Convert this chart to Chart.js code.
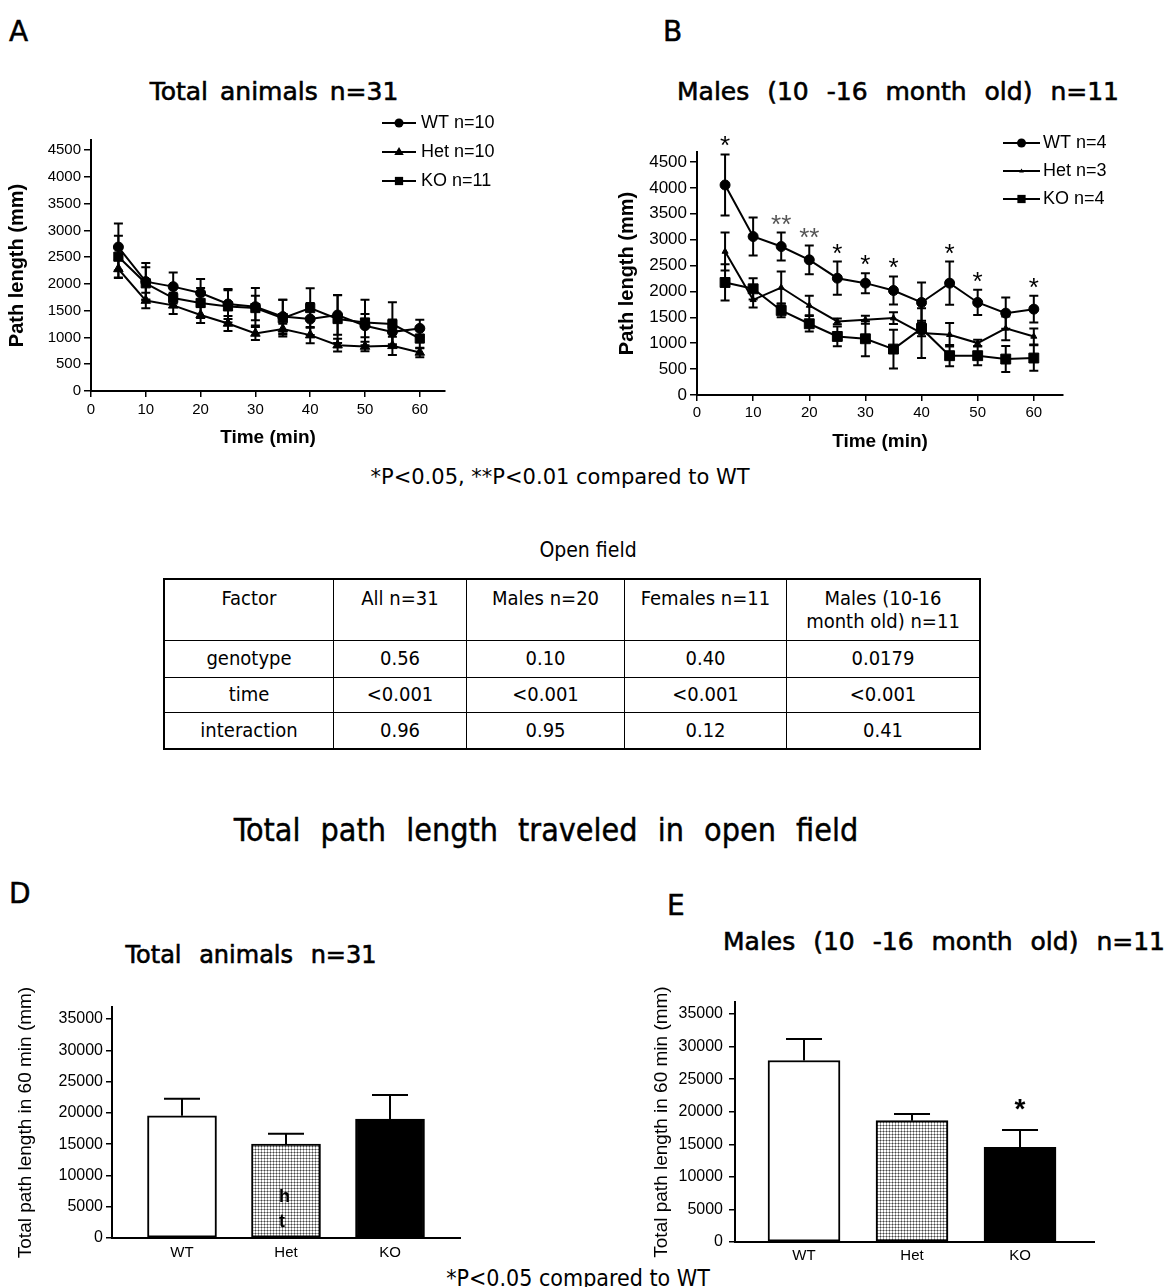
<!DOCTYPE html>
<html>
<head>
<meta charset="utf-8">
<script src="https://cdn.jsdelivr.net/npm/chart.js@4.4.0/dist/chart.umd.min.js"></script>
<style>
  body { margin: 0; background: #fff; width: 1167px; height: 1287px; position: relative; overflow: hidden; color: #000; }
  .t { position: absolute; white-space: nowrap; }
  .letter { font-family: "DejaVu Sans", sans-serif; font-size: 28px; line-height: 28px; -webkit-text-stroke: 0.5px #000; }
  .ptitle { font-family: "DejaVu Sans", sans-serif; font-size: 25px; line-height: 25px; text-align: center; width: 600px; -webkit-text-stroke: 0.6px #000; }
  .cond { font-family: "DejaVu Sans Condensed", "DejaVu Sans", sans-serif; text-align: center; width: 800px; }
  canvas { position: absolute; }
  table { position: absolute; left: 163px; top: 578px; border-collapse: collapse; border: 2px solid #000;
          font-family: "DejaVu Sans Condensed", "DejaVu Sans", sans-serif; font-size: 20px; }
  td { border: 1px solid #000; text-align: center; padding: 0; line-height: 23px; }
  tr.hd td { vertical-align: top; padding-top: 7px; }
</style>
</head>
<body>

<div class="t letter" style="left:9px;top:18px">A</div>
<div class="t letter" style="left:663px;top:18px">B</div>
<div class="t letter" style="left:9px;top:880px">D</div>
<div class="t letter" style="left:667px;top:892px">E</div>

<div class="t ptitle" style="left:-26px;top:79px;word-spacing:4px">Total animals n=31</div>
<div class="t ptitle" style="left:598px;top:79px;word-spacing:10px">Males (10 -16 month old) n=11</div>
<div class="t ptitle" style="left:-49px;top:943px;font-size:24px;line-height:24px;word-spacing:10px">Total animals n=31</div>
<div class="t ptitle" style="left:644px;top:929px;word-spacing:10px">Males (10 -16 month old) n=11</div>

<div class="t cond" style="left:160px;top:465px;font-size:21px;font-family:'DejaVu Sans',sans-serif">*P&lt;0.05, **P&lt;0.01 compared to WT</div>
<div class="t cond" style="left:188px;top:538px;font-size:21px">Open field</div>
<div class="t cond" style="left:146px;top:811px;font-size:32px;word-spacing:11px;-webkit-text-stroke:0.4px #000">Total path length traveled in open field</div>
<div class="t cond" style="left:178px;top:1265px;font-size:23px">*P&lt;0.05 compared to WT</div>

<canvas id="chartA" width="520" height="355" style="left:0;top:105px"></canvas>
<canvas id="chartB" width="567" height="355" style="left:600px;top:105px"></canvas>
<canvas id="chartD" width="470" height="310" style="left:0;top:960px"></canvas>
<canvas id="chartE" width="527" height="325" style="left:640px;top:945px"></canvas>

<table id="statsTable"></table>

<div class="t" style="left:279px;top:1186px;font:bold 18px 'Liberation Sans'">h</div>
<div class="t" style="left:279px;top:1211px;font:bold 18px 'Liberation Sans'">t</div>

<script>
// time course, minutes
const timePoints = [5, 10, 15, 20, 25, 30, 35, 40, 45, 50, 55, 60];
const xTicksLine = [0, 10, 20, 30, 40, 50, 60];
const yTicksLine = [0, 500, 1000, 1500, 2000, 2500, 3000, 3500, 4000, 4500];

// A: total animals n=31
const allWT = [2690, 2044, 1950, 1831, 1625, 1575, 1390, 1345, 1420, 1220, 1105, 1170];
const allWTsem = [440, 350, 262, 263, 281, 350, 316, 300, 370, 217, 230, 160];
const allHet = [2280, 1690, 1600, 1420, 1262, 1075, 1156, 1044, 856, 831, 844, 720];
const allHetSem = [170, 146, 160, 150, 140, 120, 100, 150, 120, 90, 170, 90];
const allKO = [2510, 2012, 1737, 1644, 1581, 1550, 1362, 1550, 1345, 1280, 1250, 980];
const allKOsem = [390, 300, 100, 280, 300, 230, 344, 370, 450, 426, 406, 180];

// B: males 10-16 month old n=11
const malesWT = [4056, 3060, 2867, 2610, 2256, 2160, 2018, 1787, 2160, 1787, 1581, 1658];
const malesWTsem = [590, 366, 270, 276, 322, 193, 271, 386, 418, 244, 302, 257];
const malesHet = [2771, 1838, 2076, 1729, 1421, 1453, 1485, 1196, 1164, 1003, 1286, 1131];
const malesHetSem = [366, 150, 309, 187, 57, 77, 115, 480, 225, 64, 231, 155];
const malesKO = [2173, 2051, 1633, 1376, 1131, 1086, 887, 1286, 759, 759, 694, 714];
const malesKOsem = [350, 205, 130, 150, 190, 340, 373, 150, 205, 185, 250, 245];
const malesStars = ['*', '', '**', '**', '*', '*', '*', '', '*', '*', '', '*'];

// D / E: total path length in 60 min
const genotypes = ['WT', 'Het', 'KO'];
const yTicksBar = [0, 5000, 10000, 15000, 20000, 25000, 30000, 35000];
const totalAll = [19520, 15000, 18990];
const totalAllSem = [2720, 1650, 3880];
const totalMales = [27860, 18630, 14520];
const totalMalesSem = [3290, 1020, 2670];
const totalMalesStars = ['', '', '*'];

// ANOVA table
const tableHeader = ['Factor', 'All n=31', 'Males n=20', 'Females n=11', 'Males (10-16<br>month old) n=11'];
const tableRows = [
    ['genotype', '0.56', '0.10', '0.40', '0.0179'],
    ['time', '<0.001', '<0.001', '<0.001', '<0.001'],
    ['interaction', '0.96', '0.95', '0.12', '0.41']
];
const colWidths = [168, 132, 157, 161, 192];
const rowHeights = [61, 37, 35, 37];

Chart.defaults.font.family = "'Liberation Sans', Arial, sans-serif";
Chart.defaults.color = '#000';

// error bars (+ optional stars above them)
const errorBars = {
    id: 'errorBars',
    afterDatasetsDraw(chart, args, opts) {
        const ctx = chart.ctx;
        const yScale = chart.scales.y;
        chart.data.datasets.forEach((ds, di) => {
            if (!ds.errors) return;
            const meta = chart.getDatasetMeta(di);
            ctx.save();
            ctx.strokeStyle = '#000';
            ctx.lineWidth = opts.width;
            meta.data.forEach((el, i) => {
                const v = ds.data[i].y;
                const e = ds.errors[i];
                const top = yScale.getPixelForValue(v + e);
                const bot = opts.upOnly ? el.y : yScale.getPixelForValue(v - e);
                ctx.beginPath();
                ctx.moveTo(el.x, top);
                ctx.lineTo(el.x, bot);
                ctx.moveTo(el.x - opts.cap, top);
                ctx.lineTo(el.x + opts.cap, top);
                if (!opts.upOnly) {
                    ctx.moveTo(el.x - opts.cap, bot);
                    ctx.lineTo(el.x + opts.cap, bot);
                }
                ctx.stroke();
                if (ds.stars && ds.stars[i]) {
                    ctx.fillStyle = ds.stars[i] === '**' ? '#555' : '#000';
                    ctx.font = opts.starFont;
                    ctx.textAlign = 'center';
                    ctx.textBaseline = 'alphabetic';
                    ctx.fillText(ds.stars[i], el.x, top - opts.starGap);
                }
            });
            ctx.restore();
        });
    }
};

function drawMarker(ctx, style, r, x, y) {
    ctx.beginPath();
    if (style === 'circle') {
        ctx.arc(x, y, r, 0, Math.PI * 2);
    } else if (style === 'triangle') {
        ctx.moveTo(x, y - r);
        ctx.lineTo(x + r * 0.95, y + r * 0.6);
        ctx.lineTo(x - r * 0.95, y + r * 0.6);
        ctx.closePath();
    } else {
        ctx.rect(x - r * 0.75, y - r * 0.75, r * 1.5, r * 1.5);
    }
    ctx.fill();
}

// legend: line with marker, then label
const lineLegend = {
    id: 'lineLegend',
    afterDraw(chart, args, o) {
        if (!o.labels) return;
        const ctx = chart.ctx;
        chart.data.datasets.forEach((ds, i) => {
            const y = o.y + i * o.gap;
            ctx.save();
            ctx.strokeStyle = '#000';
            ctx.fillStyle = '#000';
            ctx.lineWidth = 2;
            ctx.beginPath();
            ctx.moveTo(o.x, y);
            ctx.lineTo(o.x + o.len, y);
            ctx.stroke();
            drawMarker(ctx, ds.pointStyle, o.radius[i], o.x + o.len / 2, y);
            ctx.font = o.font;
            ctx.textBaseline = 'middle';
            ctx.fillText(o.labels[i], o.x + o.len + o.textGap, y);
            ctx.restore();
        });
    }
};

function points(values) {
    return values.map((v, i) => ({ x: timePoints[i], y: v }));
}

function lineDataset(label, values, sem, style, radius) {
    return {
        label: label,
        data: points(values),
        errors: sem,
        borderColor: '#000',
        borderWidth: 2,
        backgroundColor: '#000',
        pointBackgroundColor: '#000',
        pointBorderColor: '#000',
        pointBorderWidth: 1,
        pointStyle: style,
        pointRadius: radius,
        tension: 0,
        fill: false
    };
}

function axisGrid(len) {
    return { display: true, drawOnChartArea: false, drawTicks: true, tickLength: len, color: '#000', lineWidth: 1.5 };
}

const plain = v => String(v);

function lineChart(id, datasets, cfg) {
    return new Chart(document.getElementById(id), {
        type: 'line',
        data: { datasets: datasets },
        plugins: [errorBars, lineLegend],
        options: {
            responsive: false,
            animation: false,
            layout: { padding: { top: cfg.padTop, right: cfg.padRight, left: 0, bottom: 0 } },
            plugins: {
                legend: { display: false },
                tooltip: { enabled: false },
                errorBars: { width: 2, cap: 4.5, starFont: '26px "Liberation Sans"', starGap: 0 },
                lineLegend: cfg.legend
            },
            scales: {
                x: {
                    type: 'linear',
                    min: 0,
                    max: cfg.xMax,
                    afterBuildTicks: s => { s.ticks = xTicksLine.map(v => ({ value: v })); },
                    afterFit: s => { s.height = cfg.xHeight; },
                    border: { color: '#000', width: 2 },
                    grid: axisGrid(6),
                    ticks: { font: { size: cfg.xTickSize }, padding: cfg.xTickPad, maxRotation: 0, callback: plain },
                    title: { display: true, text: 'Time (min)', font: { size: 19, weight: 'bold' }, padding: { top: 0, bottom: cfg.xTitlePad } }
                },
                y: {
                    type: 'linear',
                    min: 0,
                    max: cfg.yMax,
                    afterBuildTicks: s => { s.ticks = yTicksLine.map(v => ({ value: v })); },
                    afterFit: s => { s.width = cfg.yWidth; },
                    border: { color: '#000', width: 2 },
                    grid: axisGrid(7),
                    ticks: { font: { size: cfg.yTickSize }, padding: 3, callback: plain },
                    title: { display: true, text: 'Path length (mm)', font: { size: 20, weight: 'bold' }, padding: { top: cfg.yTitlePad, bottom: 0 } }
                }
            }
        }
    });
}

lineChart('chartA', [
    lineDataset('WT n=10', allWT, allWTsem, 'circle', 5),
    lineDataset('Het n=10', allHet, allHetSem, 'triangle', 5.5),
    lineDataset('KO n=11', allKO, allKOsem, 'rect', 6.5)
], {
    padTop: 35, padRight: 75, xMax: 64.6, yMax: 4690, xHeight: 69, yWidth: 91,
    xTickSize: 15, yTickSize: 15, xTickPad: 4, xTitlePad: 11, yTitlePad: 5,
    legend: { labels: ['WT n=10', 'Het n=10', 'KO n=11'], x: 382, y: 18, gap: 29, len: 34, textGap: 5,
              radius: [4.5, 5, 5.5], font: '18px "Liberation Sans"' }
});

const malesWTset = lineDataset('WT n=4', malesWT, malesWTsem, 'circle', 5);
malesWTset.stars = malesStars;
lineChart('chartB', [
    malesWTset,
    lineDataset('Het n=3', malesHet, malesHetSem, 'triangle', 3.5),
    lineDataset('KO n=4', malesKO, malesKOsem, 'rect', 7)
], {
    padTop: 47, padRight: 104, xMax: 65.2, yMax: 4693, xHeight: 65, yWidth: 97,
    xTickSize: 15, yTickSize: 17, xTickPad: 3, xTitlePad: 7, yTitlePad: 15,
    legend: { labels: ['WT n=4', 'Het n=3', 'KO n=4'], x: 403, y: 38, gap: 28, len: 37, textGap: 3,
              radius: [4.5, 2.5, 5.5], font: '18px "Liberation Sans"' }
});

// stippled fill for Het bars
function stipple() {
    const c = document.createElement('canvas');
    c.width = 3; c.height = 3;
    const g = c.getContext('2d');
    g.fillStyle = '#fff';
    g.fillRect(0, 0, 3, 3);
    g.fillStyle = '#a0a0a0';
    g.fillRect(0, 0, 3, 1);
    g.fillRect(0, 0, 1, 3);
    g.fillStyle = '#444';
    g.fillRect(0, 0, 1, 1);
    return g.createPattern(c, 'repeat');
}
const hetFill = stipple();

function barChart(id, values, sem, stars, cfg) {
    return new Chart(document.getElementById(id), {
        type: 'bar',
        data: {
            datasets: [{
                data: values.map((v, i) => ({ x: i + 1, y: v })),
                errors: sem,
                stars: stars,
                backgroundColor: ['#fff', hetFill, '#000'],
                borderColor: '#000',
                borderWidth: 2,
                borderSkipped: false,
                barThickness: cfg.barWidth
            }]
        },
        plugins: [errorBars],
        options: {
            responsive: false,
            animation: false,
            layout: { padding: { top: cfg.padTop, right: cfg.padRight, left: 0, bottom: 0 } },
            plugins: {
                legend: { display: false },
                tooltip: { enabled: false },
                errorBars: { width: 2, upOnly: true, cap: 18, starFont: 'bold 28px "Liberation Sans"', starGap: 12 }
            },
            scales: {
                x: {
                    type: 'linear',
                    min: cfg.xMin,
                    max: cfg.xMax,
                    offset: false,
                    afterBuildTicks: s => { s.ticks = genotypes.map((g, i) => ({ value: i + 1 })); },
                    afterFit: s => { s.height = cfg.xHeight; },
                    border: { color: '#000', width: 2 },
                    grid: { display: false, drawTicks: false },
                    ticks: { font: { size: 15 }, padding: cfg.xTickPad, maxRotation: 0, callback: v => genotypes[v - 1] }
                },
                y: {
                    type: 'linear',
                    min: 0,
                    max: cfg.yMax,
                    afterBuildTicks: s => { s.ticks = yTicksBar.map(v => ({ value: v })); },
                    afterFit: s => { s.width = cfg.yWidth; },
                    border: { color: '#000', width: 2 },
                    grid: axisGrid(6),
                    ticks: { font: { size: 16 }, padding: cfg.yTickPad, callback: plain },
                    title: { display: true, text: 'Total path length in 60 min (mm)', font: { size: 19 }, padding: { top: cfg.yTitlePad, bottom: 0 } }
                }
            }
        }
    });
}

barChart('chartD', totalAll, totalAllSem, null, {
    padTop: 47, padRight: 10, xMin: 0.327, xMax: 3.673, yMax: 36918, xHeight: 32, yWidth: 112,
    barWidth: 69, yTickPad: 3, yTitlePad: 14, xTickPad: 6
});
barChart('chartE', totalMales, totalMalesSem, totalMalesStars, {
    padTop: 57, padRight: 73, xMin: 0.361, xMax: 3.685, yMax: 36842, xHeight: 28, yWidth: 95,
    barWidth: 72, yTickPad: 6, yTitlePad: 10, xTickPad: 5
});

// statistics table
const table = document.getElementById('statsTable');
table.innerHTML = [tableHeader].concat(tableRows).map((row, r) =>
    `<tr class="${r === 0 ? 'hd' : ''}" style="height:${rowHeights[r]}px">` +
    row.map((cell, c) => `<td style="width:${colWidths[c]}px">${r === 0 ? cell : cell.replace('<', '&lt;')}</td>`).join('') +
    '</tr>'
).join('');
</script>
</body>
</html>
